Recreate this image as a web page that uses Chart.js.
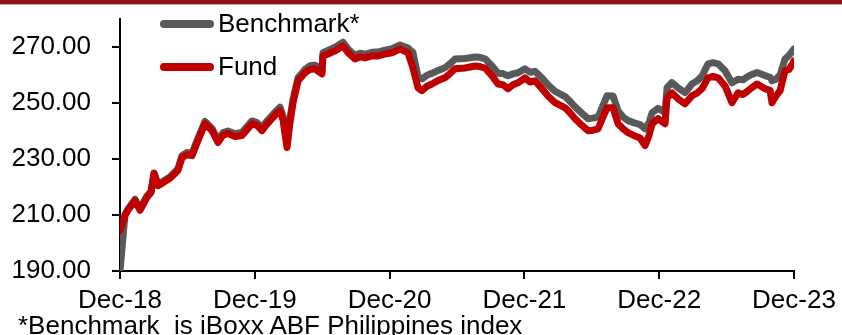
<!DOCTYPE html>
<html>
<head>
<meta charset="utf-8">
<script src="https://cdn.jsdelivr.net/npm/chart.js@4/dist/chart.umd.min.js"></script>
<style>
  body { margin: 0; background: #fff; }
  #wrap { position: relative; width: 842px; height: 335px; overflow: hidden; }
  #band { position: absolute; left: 0; top: 0; width: 842px; height: 4px; background: #8b1414; border-bottom: 1px solid #d9a3a3; }
  #note { position: absolute; left: 18px; top: 310px; font: 26px "Liberation Sans", Arial, sans-serif; color: #000; white-space: pre; }
</style>
</head>
<body>
<div id="wrap">
  <canvas id="myChart" width="842" height="335"></canvas>
  <div id="band"></div>
  <div id="note">*Benchmark  is iBoxx ABF Philippines index</div>
</div>
<script>
// months since Dec-18
const months = [0, 0.45, 0.71, 1.34, 1.78, 2.40, 2.76, 3.03, 3.38, 3.74, 4.45, 5.16, 5.52, 5.96, 6.41, 6.94, 7.57, 8.19, 8.72, 9.17,
    9.61, 10.24, 10.86, 11.31, 11.75, 12.20, 12.64, 13.09, 13.53, 13.89, 14.24, 14.51, 14.87, 15.13, 15.40, 15.85, 16.47, 16.91, 17.36, 17.98,
    18.07, 18.52, 19.14, 19.85, 20.30, 20.92, 21.37, 21.81, 22.43, 22.97, 23.59, 24.21, 24.93, 25.64, 26.08, 26.53, 26.88, 27.33, 27.77, 28.31,
    28.93, 29.38, 29.82, 30.71, 31.60, 32.05, 32.49, 33.12, 33.65, 34.10, 34.54, 34.99, 35.43, 36.05, 36.50, 36.94, 37.57, 38.10, 38.73, 39.62,
    40.06, 40.51, 41.13, 41.66, 42.11, 42.56, 43.00, 43.36, 43.89, 44.34, 44.78, 45.23, 45.85, 46.30, 46.74, 47.10, 47.37, 47.90, 48.52, 48.70,
    49.14, 49.68, 50.30, 50.92, 51.37, 51.81, 52.35, 52.79, 53.24, 53.86, 54.48, 55.02, 55.46, 55.91, 56.26, 56.71, 57.42, 57.87, 58.04, 58.40,
    58.76, 59.20, 59.56, 60.00];
const fund = [204.5, 209.9, 211.7, 215.2, 211.7, 216.3, 218.0, 224.8, 220.5, 221.3, 223.1, 225.9, 230.5, 231.5, 231.2, 236.6, 242.6, 240.1, 235.9, 238.5,
    239.1, 238.0, 238.4, 240.5, 242.6, 242.0, 240.1, 242.5, 244.4, 246.0, 247.2, 244.0, 234.1, 243.0, 250.0, 257.9, 260.8, 262.0, 262.2, 260.4,
    266.8, 267.5, 268.6, 270.4, 268.0, 265.7, 266.5, 266.1, 266.8, 266.8, 267.5, 267.9, 269.3, 267.9, 262.5, 255.4, 254.4, 256.0, 256.8, 258.0,
    259.0, 260.5, 262.2, 262.5, 263.2, 263.0, 262.5, 259.7, 256.8, 256.5, 255.1, 256.5, 257.2, 259.0, 257.5, 257.9, 255.1, 252.5, 250.1, 248.3,
    246.5, 244.4, 242.0, 240.1, 240.3, 240.8, 245.0, 248.3, 248.3, 242.6, 240.8, 239.4, 238.2, 237.5, 234.8, 238.5, 242.6, 244.4, 242.6, 251.9,
    253.6, 251.5, 249.7, 252.6, 253.5, 255.1, 259.0, 259.5, 259.0, 256.1, 250.1, 253.6, 253.0, 254.4, 255.5, 256.8, 255.1, 254.5, 250.1, 252.5,
    254.4, 261.5, 262.0, 265.0];
const benchmark = [190.0, 210.3, 212.1, 215.6, 212.2, 216.8, 218.5, 225.0, 221.0, 221.8, 223.6, 226.5, 231.2, 232.3, 232.0, 237.4, 243.4, 240.9, 236.8, 239.4,
    240.0, 239.0, 239.5, 241.6, 243.6, 243.0, 241.2, 243.6, 245.5, 247.1, 248.5, 245.3, 235.5, 244.3, 251.2, 259.0, 262.0, 263.3, 263.5, 261.8,
    268.0, 268.8, 269.9, 271.7, 269.3, 267.0, 267.8, 267.4, 268.1, 268.2, 268.9, 269.4, 270.7, 269.6, 268.0, 259.3, 258.6, 259.9, 260.6, 261.6,
    262.6, 264.0, 265.7, 265.9, 266.4, 266.3, 265.8, 263.2, 260.6, 260.5, 259.7, 260.4, 260.8, 262.2, 261.0, 261.3, 258.9, 256.5, 254.2, 252.3,
    250.6, 248.6, 246.3, 244.4, 244.6, 245.0, 249.2, 252.6, 252.5, 247.2, 245.0, 243.7, 242.8, 242.3, 240.8, 243.0, 246.5, 248.1, 246.6, 255.5,
    257.3, 255.4, 253.7, 256.8, 257.9, 259.6, 264.0, 264.4, 264.0, 261.5, 257.2, 258.5, 258.3, 259.5, 260.2, 260.9, 259.8, 259.2, 257.9, 258.5,
    260.0, 265.7, 267.0, 269.3];
const tickMonths = [0, 12, 24, 36, 48, 60];
const tickLabels = ["Dec-18", "Dec-19", "Dec-20", "Dec-21", "Dec-22", "Dec-23"];
const yTicks = [190, 210, 230, 250, 270];

const FONT = '"Liberation Sans", Arial, sans-serif';

function pts(vals) {
    return months.map((m, i) => ({x: m, y: vals[i]}));
}

// legend drawn in the upper left of the plot
const innerLegend = {
    id: 'innerLegend',
    afterDraw(chart) {
        const ctx = chart.ctx;
        const rows = [24, 67];
        ctx.save();
        chart.data.datasets.forEach((ds, i) => {
            const y = rows[i];
            ctx.strokeStyle = ds.borderColor;
            ctx.lineWidth = 8;
            ctx.lineCap = 'round';
            ctx.beginPath();
            ctx.moveTo(164, y);
            ctx.lineTo(210, y);
            ctx.stroke();
            ctx.fillStyle = '#000';
            ctx.font = '26px ' + FONT;
            ctx.textBaseline = 'middle';
            ctx.fillText(ds.label, 218, y + 1);
        });
        ctx.restore();
    }
};

new Chart("myChart", {
    type: "line",
    data: {
        datasets: [{
            label: 'Benchmark*',
            data: pts(benchmark),
            borderColor: "#595959",
            borderWidth: 7,
            borderJoinStyle: 'round',
            borderCapStyle: 'round',
            pointRadius: 0,
            fill: false,
            order: 2
        }, {
            label: 'Fund',
            data: pts(fund),
            borderColor: "#c00000",
            borderWidth: 7,
            borderJoinStyle: 'round',
            borderCapStyle: 'round',
            pointRadius: 0,
            fill: false,
            order: 1
        }]
    },
    options: {
        responsive: false,
        animation: false,
        layout: {padding: {top: 19, right: 48, left: 0, bottom: 0}},
        plugins: {
            legend: {display: false},
            tooltip: {enabled: false}
        },
        scales: {
            x: {
                type: 'linear',
                min: 0,
                max: 60,
                afterBuildTicks: axis => { axis.ticks = tickMonths.map(v => ({value: v})); },
                afterFit: axis => { axis.height = 64; },
                ticks: {
                    autoSkip: false,
                    maxRotation: 0,
                    padding: 6,
                    color: '#000',
                    font: {family: FONT, size: 26},
                    callback: (v) => tickLabels[tickMonths.indexOf(v)]
                },
                grid: {drawOnChartArea: false, color: '#000', tickLength: 8, lineWidth: 2},
                border: {color: '#000', width: 2}
            },
            y: {
                min: 190,
                max: 280,
                afterBuildTicks: axis => { axis.ticks = yTicks.map(v => ({value: v})); },
                afterFit: axis => {
                    axis.width = 120;
                    axis.paddingTop = 0;
                    axis.paddingBottom = 0;
                },
                ticks: {
                    padding: 21,
                    color: '#000',
                    font: {family: FONT, size: 26},
                    callback: v => v.toFixed(2)
                },
                grid: {drawOnChartArea: false, color: '#000', tickLength: 8, lineWidth: 2},
                border: {color: '#000', width: 2}
            }
        }
    },
    plugins: [innerLegend]
});
</script>
</body>
</html>
